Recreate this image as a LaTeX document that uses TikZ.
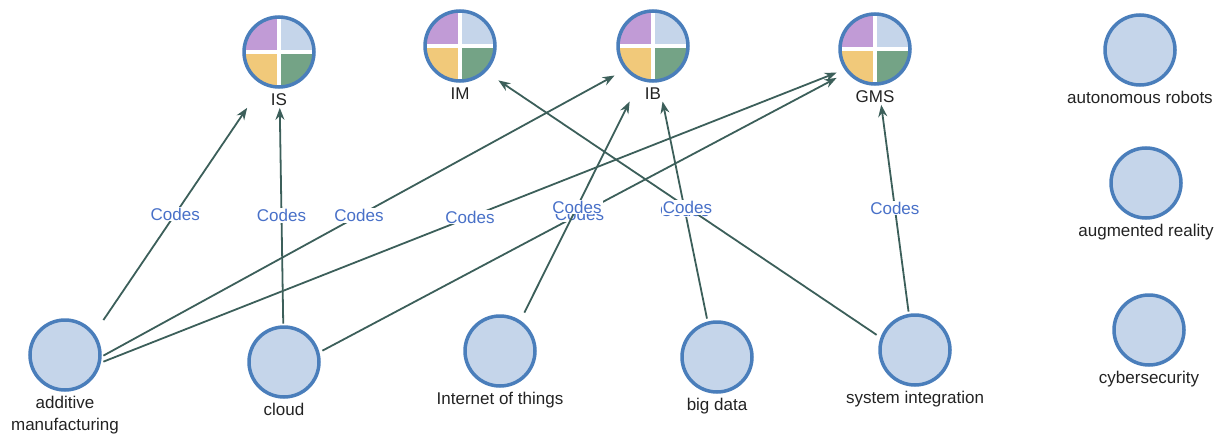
\documentclass[tikz,border=0pt]{standalone}
\usepackage{fontspec}
\setmainfont{Liberation Sans}
\usetikzlibrary{arrows.meta, positioning, fit}
\definecolor{circfill}{RGB}{197, 213, 234}
\definecolor{ringblue}{RGB}{74, 126, 187}
\definecolor{edgegray}{RGB}{60, 95, 90}
\definecolor{codeblue}{RGB}{72, 112, 200}
\definecolor{qpurple}{RGB}{193, 155, 214}
\definecolor{qyellow}{RGB}{241, 201, 122}
\definecolor{qgreen}{RGB}{116, 163, 134}
\definecolor{txtgray}{RGB}{35, 35, 35}

\begin{document}
\begin{tikzpicture}[
  x=1pt, y=-1pt,
  conceptnode/.style={rectangle, minimum size=76pt, inner sep=0pt,
    path picture={
      \fill[circfill] (path picture bounding box.center) circle (35pt);
      \draw[ringblue, line width=3.5pt] (path picture bounding box.center) circle (35pt);
    }},
  groupnode/.style={rectangle, minimum size=76pt, inner sep=0pt,
    path picture={
      \coordinate (pc) at (path picture bounding box.center);
      \begin{scope}
        \clip (pc) circle (35pt);
        \fill[qpurple] (pc) rectangle ++(-40pt, 40pt);
        \fill[circfill] (pc) rectangle ++(40pt, 40pt);
        \fill[qyellow] (pc) rectangle ++(-40pt, -40pt);
        \fill[qgreen] (pc) rectangle ++(40pt, -40pt);
      \end{scope}
      \draw[white, line width=4pt] ([xshift=-36pt]pc) -- ([xshift=36pt]pc);
      \draw[white, line width=4pt] ([yshift=-36pt]pc) -- ([yshift=36pt]pc);
      \draw[ringblue, line width=3.5pt] (pc) circle (35pt);
    }},
  lbl/.style={font=\fontsize{17}{22}\selectfont, text=txtgray, inner sep=2pt, align=center},
  box/.style={inner sep=0pt},
  link/.style={draw=edgegray, line width=1.8pt, -{Stealth[length=12pt, width=9pt]}},
  codes/.style={midway, fill=white, inner sep=1pt, text=codeblue, font=\fontsize{17}{20}\selectfont}
]
  \useasboundingbox (0, 0) rectangle (1226, 436);

  % code groups
  \node[groupnode] (is) at (279, 52) {};
  \node[lbl, below=1pt of is] (is-l) {IS};
  \node[groupnode] (im) at (460, 46) {};
  \node[lbl, below=1pt of im] (im-l) {IM};
  \node[groupnode] (ib) at (653, 46) {};
  \node[lbl, below=1pt of ib] (ib-l) {IB};
  \node[groupnode] (gms) at (875, 49) {};
  \node[lbl, below=1pt of gms] (gms-l) {GMS};

  % codes
  \node[conceptnode] (am) at (65, 355) {};
  \node[lbl, below=1pt of am] (am-l) {additive\\manufacturing};
  \node[conceptnode] (cloud) at (284, 362) {};
  \node[lbl, below=1pt of cloud] (cloud-l) {cloud};
  \node[conceptnode] (iot) at (500, 351) {};
  \node[lbl, below=1pt of iot] (iot-l) {Internet of things};
  \node[conceptnode] (bd) at (717, 357) {};
  \node[lbl, below=1pt of bd] (bd-l) {big data};
  \node[conceptnode] (si) at (915, 350) {};
  \node[lbl, below=1pt of si] (si-l) {system integration};
  \node[conceptnode] (ar) at (1140, 50) {};
  \node[lbl, below=1pt of ar] (ar-l) {autonomous robots};
  \node[conceptnode] (aug) at (1146, 183) {};
  \node[lbl, below=1pt of aug] (aug-l) {augmented reality};
  \node[conceptnode] (cyb) at (1149, 330) {};
  \node[lbl, below=1pt of cyb] (cyb-l) {cybersecurity};

  % circle plus its label, as wide as the circle
  \node[box, fit=(is)(is-l.south)] (is-b) {};
  \node[box, fit=(im)(im-l.south)] (im-b) {};
  \node[box, fit=(ib)(ib-l.south)] (ib-b) {};
  \node[box, fit=(gms)(gms-l.south)] (gms-b) {};
  \node[box, fit=(am)(am-l.south)] (am-b) {};
  \node[box, fit=(cloud)(cloud-l.south)] (cloud-b) {};
  \node[box, fit=(iot)(iot-l.south)] (iot-b) {};
  \node[box, fit=(bd)(bd-l.south)] (bd-b) {};
  \node[box, fit=(si)(si-l.south)] (si-b) {};

  \draw[link] (am-b) -- (is-b) node[codes] {Codes};
  \draw[link] (cloud-b) -- (is-b) node[codes] {Codes};
  \draw[link] (am-b) -- (ib-b) node[codes] {Codes};
  \draw[link] (am-b) -- (gms-b) node[codes] {Codes};
  \draw[link] (cloud-b) -- (gms-b) node[codes] {Codes};
  \draw[link] (iot-b) -- (ib-b) node[codes] {Codes};
  \draw[link] (bd-b) -- (ib-b) node[codes] {Codes};
  \draw[link] (si-b) -- (im-b) node[codes] {Codes};
  \draw[link] (si-b) -- (gms-b) node[codes] {Codes};
\end{tikzpicture}
\end{document}
